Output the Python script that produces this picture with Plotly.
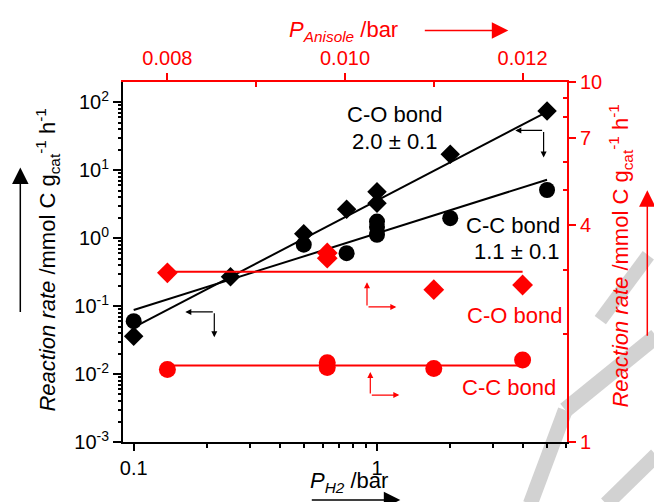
import numpy as np
import plotly.graph_objects as go

# ---------------- data ----------------
# Black series: reaction rate vs P_H2 (bottom / left axes)
h2_co_p = [0.1, 0.25, 0.5, 0.75, 1.0, 1.0, 2.0, 5.0]
h2_co_rate = [0.036, 0.27, 1.16, 2.66, 4.8, 3.25, 17.1, 74.0]
h2_cc_p = [0.1, 0.5, 0.75, 1.0, 1.0, 1.0, 2.0, 5.0]
h2_cc_rate = [0.060, 0.80, 0.60, 1.75, 1.45, 1.12, 1.96, 5.1]
# fitted lines: log10(rate) = a + b*log10(P)
co_fit = (0.553, 1.867)
cc_fit = (0.070, 1.128)
fit_p_range = [0.1, 5.0]

# Red series: reaction rate vs P_anisole (top / right axes)
an_co_p = [0.008, 0.0098, 0.0098, 0.011, 0.012]
an_co_rate = [2.95, 3.35, 3.24, 2.65, 2.73]
an_cc_p = [0.008, 0.0098, 0.0098, 0.011, 0.012]
an_cc_rate = [1.59, 1.66, 1.61, 1.60, 1.69]
an_co_mean = 2.97
an_cc_mean = 1.63
an_line_range = [0.008, 0.012]

# tick labels
bottom_ticks = [0.1, 1]
bottom_ticktext = ["0.1", "1"]
left_ticks = [1e-3, 1e-2, 1e-1, 1e0, 1e1, 1e2]
left_ticktext = ["10<sup>-3</sup>", "10<sup>-2</sup>", "10<sup>-1</sup>",
                 "10<sup>0</sup>", "10<sup>1</sup>", "10<sup>2</sup>"]
top_ticks = [0.008, 0.010, 0.012]
top_ticktext = ["0.008", "0.010", "0.012"]
right_ticks = [1, 4, 7, 10]
right_ticktext = ["1", "4", "7", "10"]

# ---------------- layout geometry ----------------
W, H = 654, 502
L, R, T, B = 122.7, 566.7, 81.5, 442.0
FONT = "Liberation Sans, Arial, sans-serif"
RED = "#ff0000"


def P(px, py):
    return (px - L) / (R - L), (B - py) / (B - T)


def fit_line(fit):
    a, b = fit
    xs = np.array(fit_p_range)
    return xs, 10 ** (a + b * np.log10(xs))


fig = go.Figure()

# fit lines
for fit in (co_fit, cc_fit):
    xs, ys = fit_line(fit)
    fig.add_trace(go.Scatter(x=xs, y=ys, mode="lines",
                             line=dict(color="black", width=2),
                             xaxis="x", yaxis="y", showlegend=False, hoverinfo="skip"))

# red mean lines
for m in (an_co_mean, an_cc_mean):
    fig.add_trace(go.Scatter(x=an_line_range, y=[m, m], mode="lines",
                             line=dict(color=RED, width=2),
                             xaxis="x2", yaxis="y2", showlegend=False, hoverinfo="skip"))

fig.add_trace(go.Scatter(x=h2_co_p, y=h2_co_rate, mode="markers",
                         marker=dict(symbol="diamond", size=15, color="black"),
                         xaxis="x", yaxis="y", showlegend=False))
fig.add_trace(go.Scatter(x=h2_cc_p, y=h2_cc_rate, mode="markers",
                         marker=dict(symbol="circle", size=16, color="black"),
                         xaxis="x", yaxis="y", showlegend=False))
fig.add_trace(go.Scatter(x=an_co_p, y=an_co_rate, mode="markers",
                         marker=dict(symbol="diamond", size=16, color=RED),
                         xaxis="x2", yaxis="y2", showlegend=False))
fig.add_trace(go.Scatter(x=an_cc_p, y=an_cc_rate, mode="markers",
                         marker=dict(symbol="circle", size=17, color=RED),
                         xaxis="x2", yaxis="y2", showlegend=False))

left_minor = [m * 10.0 ** k for k in range(-3, 3) for m in range(2, 10) if m * 10.0 ** k < 195]
bottom_minor = [m / 10 for m in range(2, 10)] + [2, 3, 4, 5, 6]
right_minor = [2, 3, 5, 6, 8, 9]
top_minor = [0.009, 0.011]

fig.update_layout(
    width=W, height=H,
    margin=dict(l=L, r=W - R, t=T, b=H - B, pad=0),
    paper_bgcolor="white", plot_bgcolor="rgba(0,0,0,0)",
    font=dict(family=FONT, size=20, color="black"),
    showlegend=False,
    xaxis=dict(type="log", range=[-1.044, 0.781], showgrid=False, zeroline=False,
               showline=True, linecolor="black", linewidth=2,
               ticks="outside", ticklen=7, tickwidth=2, tickcolor="black",
               tickmode="array", tickvals=bottom_ticks, ticktext=bottom_ticktext,
               tickfont=dict(size=20, color="black"),
               minor=dict(tickmode="array", tickvals=bottom_minor, ticks="outside",
                          ticklen=4, tickwidth=2, tickcolor="black", showgrid=False)),
    yaxis=dict(type="log", range=[-3, 2.296], showgrid=False, zeroline=False,
               showline=True, linecolor="black", linewidth=2,
               ticks="outside", ticklen=8, tickwidth=2, tickcolor="black",
               tickmode="array", tickvals=left_ticks, ticktext=left_ticktext,
               tickfont=dict(size=20, color="black"),
               minor=dict(tickmode="array", tickvals=left_minor, ticks="outside",
                          ticklen=3, tickwidth=1.5, tickcolor="black", showgrid=False)),
    xaxis2=dict(overlaying="x", side="top", anchor="y", type="linear",
                range=[0.0075, 0.0125], showgrid=False, zeroline=False,
                showline=True, linecolor=RED, linewidth=2,
                ticks="outside", ticklen=7, tickwidth=2, tickcolor=RED,
                tickmode="array", tickvals=top_ticks, ticktext=top_ticktext,
                tickfont=dict(size=20, color=RED),
                minor=dict(tickmode="array", tickvals=top_minor, ticks="inside",
                           ticklen=5, tickwidth=2, tickcolor=RED, showgrid=False)),
    yaxis2=dict(overlaying="y", side="right", anchor="x", type="log",
                range=[0, 1], showgrid=False, zeroline=False,
                showline=True, linecolor=RED, linewidth=2,
                ticks="outside", ticklen=7, tickwidth=2, tickcolor=RED,
                tickmode="array", tickvals=right_ticks, ticktext=right_ticktext,
                tickfont=dict(size=20, color=RED),
                minor=dict(tickmode="array", tickvals=right_minor, ticks="inside",
                           ticklen=4, tickwidth=2, tickcolor=RED, showgrid=False)),
)

# faint grey watermark strokes in the lower-right corner (behind everything)
shapes = []
GREY = "#d2d2d2"
for (x0, y0, x1, y1, w) in [(648, 255, 600, 320, 14),
                            (656, 336, 565, 410, 16),
                            (565, 410, 530, 504, 15),
                            (656, 455, 606, 504, 15)]:
    a0, b0 = P(x0, y0)
    a1, b1 = P(x1, y1)
    shapes.append(dict(type="line", xref="paper", yref="paper", x0=a0, y0=b0,
                       x1=a1, y1=b1, line=dict(color=GREY, width=w), layer="below"))
fig.update_layout(shapes=shapes)

ann = []


def text(px, py, s, color="black", size=22, angle=0):
    x, y = P(px, py)
    ann.append(dict(x=x, y=y, xref="paper", yref="paper", text=s, showarrow=False,
                    font=dict(family=FONT, size=size, color=color),
                    xanchor="center", yanchor="middle", textangle=angle))


def arrow(tail, head, color="black", width=1.2, size=1.0):
    hx, hy = P(*head)
    ann.append(dict(x=hx, y=hy, xref="paper", yref="paper", text="",
                    showarrow=True, ax=tail[0] - head[0], ay=tail[1] - head[1],
                    axref="pixel", ayref="pixel",
                    arrowhead=2, arrowsize=size, arrowwidth=width,
                    arrowcolor=color, standoff=0, startstandoff=0))


# in-plot labels
text(394, 114, "C-O bond")
text(394, 141, "2.0 ± 0.1")
text(513, 225, "C-C bond")
text(516, 251, "1.1 ± 0.1")
text(514, 315, "C-O bond", RED)
text(509, 387, "C-C bond", RED)

# L-shaped axis indicators
arrow((543.3, 130), (515, 130))
arrow((543.3, 130), (543.3, 157))
arrow((214, 311.7), (185, 311.7))
arrow((214, 311.7), (214, 337))
arrow((366.7, 306.7), (366.7, 282), RED)
arrow((366.7, 306.7), (396, 306.7), RED)
arrow((370, 395), (370, 372), RED)
arrow((370, 395), (399, 395), RED)

# axis titles
text(47, 260, "<i>Reaction rate</i> /mmol C g<sub>cat</sub><sup>-1</sup> h<sup>-1</sup>", angle=-90)
text(620, 256, "<i>Reaction rate</i> /mmol C g<sub>cat</sub><sup>-1</sup> h<sup>-1</sup>", RED, angle=-90)
text(343, 30, "<i>P</i><sub><i>Anisole</i></sub> /bar", RED)
text(349, 482, "<i>P</i><sub><i>H2</i></sub> /bar")

# big direction arrows next to titles
arrow((20, 313), (20, 167), "black", 1.5, 2.2)
arrow((647, 337), (647, 190), RED, 1.5, 2.2)
arrow((423, 30), (508, 30), RED, 1.5, 2.2)
arrow((310, 500), (400, 500), "black", 1.5, 2.2)

fig.update_layout(annotations=ann)
fig.write_html("out.html")
